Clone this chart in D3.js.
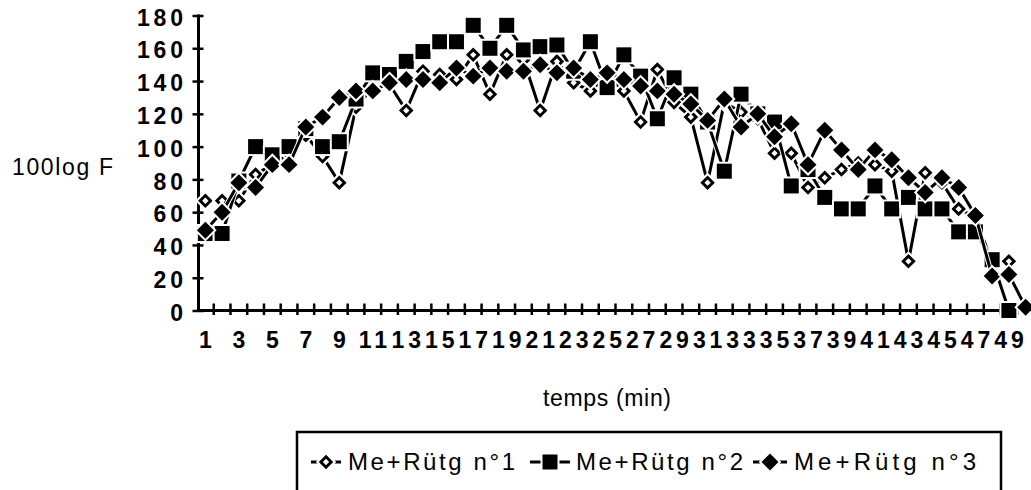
<!DOCTYPE html>
<html><head><meta charset="utf-8">
<script src="https://cdn.jsdelivr.net/npm/d3@7"></script>
<style>body{margin:0;background:#fff}svg{display:block}</style>
</head><body>
<svg id="c" width="1031" height="490"></svg>
<script>
const categories = [1,2,3,4,5,6,7,8,9,10,11,12,13,14,15,16,17,18,19,20,21,22,23,24,25,26,27,28,29,30,31,32,33,34,35,36,37,38,39,40,41,42,43,44,45,46,47,48,49,50];
const xTickLabels = [1,3,5,7,9,11,13,15,17,19,21,23,25,27,29,31,33,35,37,39,41,43,45,47,49];
const yTicks = [0,20,40,60,80,100,120,140,160,180];
const seriesNames = ["Me+Rütg n°1","Me+Rütg n°2","Me+Rütg n°3"];
const serie1 = [67,67,67,83,89,96,107,94,78,124,136,138,122,146,144,141,156,132,156,153,122,152,139,134,143,134,115,147,127,118,78,127,121,117,96,96,75,81,86,90,89,85,30,84,78,62,57,29,30,null];
const serie2 = [47,47,79,100,95,100,111,100,103,129,145,144,152,158,164,164,174,160,174,159,161,162,146,164,136,156,143,117,142,132,115,85,132,120,115,76,86,69,62,62,76,62,69,62,62,48,48,31,0,null];
const serie3 = [49,60,78,75,89,89,112,118,130,134,134,139,141,141,139,148,143,148,146,146,150,145,148,141,145,141,137,134,132,126,116,129,112,120,106,114,89,110,98,86,98,92,81,72,81,75,58,21,22,2];
const markerTypes = ["openDiamond","square","diamond"];

const svg = d3.select("#c");
const x = d3.scaleBand().domain(categories).range([197, 1034]);
const cx = c => x(c) + x.bandwidth() / 2;
const y = d3.scaleLinear().domain([0, 180]).range([310.5, 15.5]);

const tickFont = sel => sel.attr("font-family", "Liberation Sans").attr("font-weight", "bold")
  .attr("font-size", 23).attr("letter-spacing", 3.9).attr("fill", "#000");

// Y axis
const yAxis = svg.append("g").attr("transform", "translate(198.5,0)")
  .call(d3.axisLeft(y).tickValues(yTicks).tickSize(6).tickPadding(10));
yAxis.select(".domain").remove();
yAxis.selectAll(".tick line").attr("x1", 5).attr("stroke", "#000").attr("stroke-width", 2.5);
yAxis.selectAll(".tick text").call(tickFont).attr("dx", 4.5).attr("dy", "0.42em");
svg.append("line").attr("x1", 198.5).attr("x2", 198.5).attr("y1", y(180) - 1).attr("y2", y(0) + 1.5)
  .attr("stroke", "#000").attr("stroke-width", 3);

// X axis
const xAxis = svg.append("g").attr("transform", "translate(0,310.5)")
  .call(d3.axisBottom(x).tickValues(xTickLabels).tickSize(0));
xAxis.select(".domain").remove();
xAxis.selectAll(".tick line").remove();
xAxis.selectAll(".tick text").call(tickFont).attr("y", 37).attr("dy", 0).attr("dx", 2);
svg.append("line").attr("x1", 197).attr("x2", 1031).attr("y1", y(0)).attr("y2", y(0))
  .attr("stroke", "#000").attr("stroke-width", 3);
svg.append("g").selectAll("line").data(categories.slice(1)).join("line")
  .attr("x1", d => x(d)).attr("x2", d => x(d)).attr("y1", y(0) - 7).attr("y2", y(0) + 4.5)
  .attr("stroke", "#000").attr("stroke-width", 2.5);

// Axis titles
svg.append("text").attr("x", 12).attr("y", 175).attr("font-family", "Liberation Sans")
  .attr("font-size", 23).attr("textLength", 101).attr("lengthAdjust", "spacing").text("100log F");
svg.append("text").attr("x", 543).attr("y", 406).attr("font-family", "Liberation Sans")
  .attr("font-size", 23).attr("textLength", 128).attr("lengthAdjust", "spacing").text("temps (min)");

// markers
const sq = s => d3.symbol(d3.symbolSquare, s * s)();
function drawMarker(g, type, px, py) {
  const m = g.append("g").attr("transform", `translate(${px},${py})`);
  if (type === "square") {
    m.append("path").attr("d", sq(15)).attr("fill", "#fff").attr("stroke", "#fff").attr("stroke-width", 4);
    m.append("path").attr("d", sq(15)).attr("fill", "#000");
  } else if (type === "diamond") {
    m.append("path").attr("d", sq(12)).attr("transform", "rotate(45)").attr("fill", "#fff").attr("stroke", "#fff").attr("stroke-width", 4);
    m.append("path").attr("d", sq(12)).attr("transform", "rotate(45)").attr("fill", "#000");
  } else {
    m.append("path").attr("d", sq(7.4)).attr("transform", "rotate(45)").attr("fill", "#fff").attr("stroke", "#fff").attr("stroke-width", 7);
    m.append("path").attr("d", sq(7.4)).attr("transform", "rotate(45)").attr("fill", "#fff").attr("stroke", "#000").attr("stroke-width", 2.9);
  }
}

const allSeries = [serie1, serie2, serie3];
const lineGen = d3.line().defined(d => d.v != null).x(d => cx(d.c)).y(d => y(d.v));
allSeries.forEach((vals, i) => {
  const data = categories.map((c, k) => ({c: c, v: vals[k]}));
  const g = svg.append("g");
  g.append("path").attr("d", lineGen(data)).attr("fill", "none").attr("stroke", "#fff").attr("stroke-width", 5);
  g.append("path").attr("d", lineGen(data)).attr("fill", "none").attr("stroke", "#000").attr("stroke-width", 3);
  data.filter(d => d.v != null).forEach(d => drawMarker(g, markerTypes[i], cx(d.c), y(d.v)));
});

// Legend
svg.append("rect").attr("x", 297).attr("y", 432).attr("width", 704).attr("height", 80)
  .attr("fill", "none").attr("stroke", "#000").attr("stroke-width", 2.5);
const legendItems = [
  {x1: 311, x2: 341, mx: 326, tx: 348},
  {x1: 530, x2: 570, mx: 550, tx: 576},
  {x1: 753, x2: 787, mx: 770, tx: 794}
];
legendItems.forEach((it, i) => {
  const g = svg.append("g");
  g.append("line").attr("x1", it.x1).attr("x2", it.x2).attr("y1", 462).attr("y2", 462).attr("stroke", "#000").attr("stroke-width", 3);
  drawMarker(g, markerTypes[i], it.mx, 462);
  g.append("text").attr("x", it.tx).attr("y", 470).attr("font-family", "Liberation Sans").attr("font-size", 24)
    .attr("textLength", i === 2 ? 182 : 167).attr("lengthAdjust", "spacing").text(seriesNames[i]);
});
</script>
</body></html>
